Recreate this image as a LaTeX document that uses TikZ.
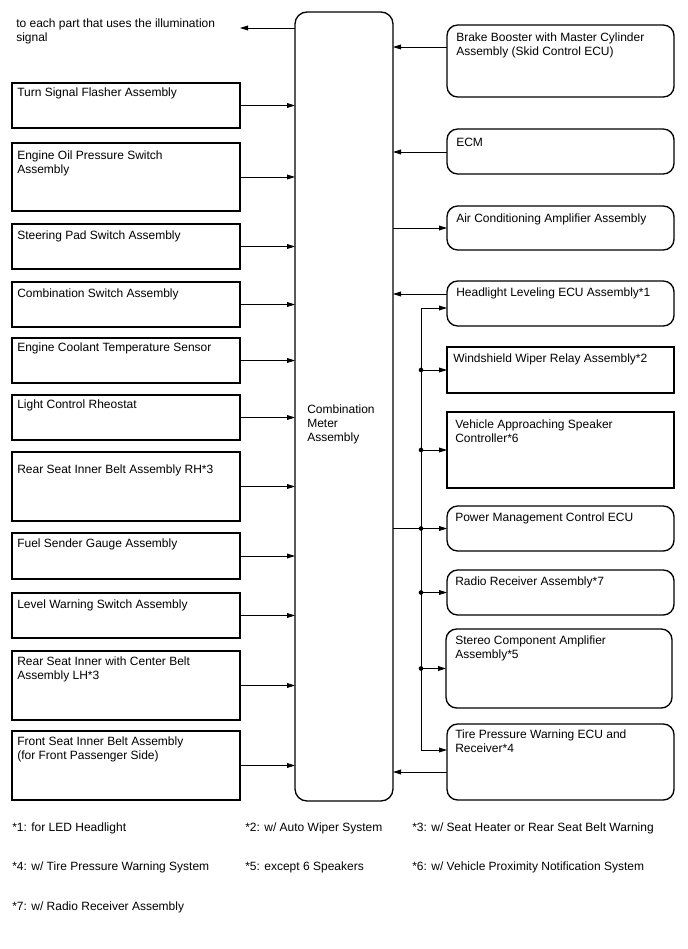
\documentclass[tikz,border=0pt]{standalone}
\usepackage{fontspec}
\setmainfont{Liberation Sans}
\usetikzlibrary{arrows.meta,calc}
\newcommand\mkbox[9]{%
  \node[#1, minimum width={(#5-#3)*0.75pt}, minimum height={(#6-#4)*0.75pt}] (#2) at (#3,#4) {};
  \node[txt] (#2t) at ($(#2.north west)+(#8,#9)$) {#7};}
\begin{document}
\begin{tikzpicture}[x=0.75pt,y=-0.75pt, font=\fontsize{9}{10.5}\selectfont,
  bx/.style={draw, line width=1pt, outer sep=0pt, inner sep=0pt, anchor=north west},
  rbx/.style={bx, rounded corners=8pt},
  txt/.style={anchor=north west, inner sep=0pt, align=left},
  con/.style={line width=0.6pt, -{Triangle[length=6pt,width=3.6pt]}},
  ln/.style={line width=0.6pt},
  dot/.style={circle, fill, inner sep=0pt, minimum size=3.5pt},
  foot/.style={anchor=west, inner sep=0pt}]
\useasboundingbox (0,0) rectangle (688,949);

% meter
\node[rbx, rounded corners=9pt, minimum width={98*0.75pt}, minimum height={789*0.75pt}] (M) at (295,12) {};
\node[txt] (Mt) at (307,405) {Combination\\Meter\\Assembly};

% top text
\node[txt] (T) at (16,19) {to each part that uses the illumination\\signal};
\coordinate (tEnd) at (240,28);
\draw[con] (M.west |- tEnd) -- (tEnd);

% left boxes
\mkbox{bx}{L1}{12}{83}{240}{128}{Turn Signal Flasher Assembly}{5}{5}
\mkbox{bx}{L2}{12}{143}{240}{211}{Engine Oil Pressure Switch\\Assembly}{5}{8}
\mkbox{bx}{L3}{12}{224}{240}{269}{Steering Pad Switch Assembly}{5}{7}
\mkbox{bx}{L4}{12}{282}{240}{327}{Combination Switch Assembly}{5}{7}
\mkbox{bx}{L5}{12}{338}{240}{383}{Engine Coolant Temperature Sensor}{5}{5}
\mkbox{bx}{L6}{12}{395}{240}{440}{Light Control Rheostat}{5}{5}
\mkbox{bx}{L7}{12}{452}{240}{521}{Rear Seat Inner Belt Assembly RH*3}{5}{13}
\mkbox{bx}{L8}{12}{533}{240}{579}{Fuel Sender Gauge Assembly}{5}{6}
\mkbox{bx}{L9}{12}{593}{240}{638}{Level Warning Switch Assembly}{5}{7}
\mkbox{bx}{L10}{12}{651}{240}{720}{Rear Seat Inner with Center Belt\\Assembly LH*3}{5}{6}
\mkbox{bx}{L11}{12}{731}{240}{800}{Front Seat Inner Belt Assembly\\(for Front Passenger Side)}{5}{6}
\foreach \i in {1,...,11} {\draw[con] (L\i.east) -- (M.west |- L\i.east);}

% right boxes
\mkbox{rbx}{R1}{447}{25}{674}{97}{Brake Booster with Master Cylinder\\Assembly (Skid Control ECU)}{9}{8}
\mkbox{rbx}{R2}{447}{129}{674}{174}{ECM}{9}{9}
\mkbox{rbx}{R3}{447}{206}{674}{250}{Air Conditioning Amplifier Assembly}{9}{8}
\mkbox{rbx}{R4}{447}{281}{674}{326}{Headlight Leveling ECU Assembly*1}{9}{7}
\mkbox{bx}{R5}{447}{347}{674}{393}{Windshield Wiper Relay Assembly*2}{6}{7}
\mkbox{bx}{R6}{447}{412}{674}{488}{Vehicle Approaching Speaker\\Controller*6}{8}{8}
\mkbox{rbx}{R7}{447}{506}{674}{551}{Power Management Control ECU}{8}{7}
\mkbox{rbx}{R8}{447}{570}{674}{615}{Radio Receiver Assembly*7}{8}{7}
\mkbox{rbx}{R9}{446}{629}{672}{708}{Stereo Component Amplifier\\Assembly*5}{9}{7}
\mkbox{rbx}{R10}{447}{724}{674}{800}{Tire Pressure Warning ECU and\\Receiver*4}{8}{6}

\draw[con] (R1.west |- 0,47) -- (M.east |- 0,47);
\draw[con] (R2.west |- 0,152) -- (M.east |- 0,152);
\draw[con] (M.east |- 0,228) -- (R3.west |- 0,228);
\draw[con] (R4.west |- 0,294) -- (M.east |- 0,294);
\draw[con] (R10.west |- 0,772) -- (M.east |- 0,772);

% bus
\coordinate (bt) at (421,308);
\coordinate (bb) at (421,750);
\draw[ln] (bt) -- (bb);
\draw[con] (bt) -- (R4.west |- bt);
\draw[con] (bb) -- (R10.west |- bb);
\draw[ln] (M.east |- R7.west) -- (bt |- R7.west);
\foreach \i in {5,...,9} {
  \draw[con] (bt |- R\i.west) -- (R\i.west);
  \node[dot] (d\i) at (bt |- R\i.west) {};
}

% footnotes
\node[foot] (f1) at (12,828) {*1: for LED Headlight};
\node[foot] (f2) at (245,828) {*2: w/ Auto Wiper System};
\node[foot] (f3) at (412,828) {*3: w/ Seat Heater or Rear Seat Belt Warning};
\node[foot] (f4) at (12,867) {*4: w/ Tire Pressure Warning System};
\node[foot] (f5) at (245,867) {*5: except 6 Speakers};
\node[foot] (f6) at (412,867) {*6: w/ Vehicle Proximity Notification System};
\node[foot] (f7) at (12,907) {*7: w/ Radio Receiver Assembly};
\end{tikzpicture}
\end{document}
